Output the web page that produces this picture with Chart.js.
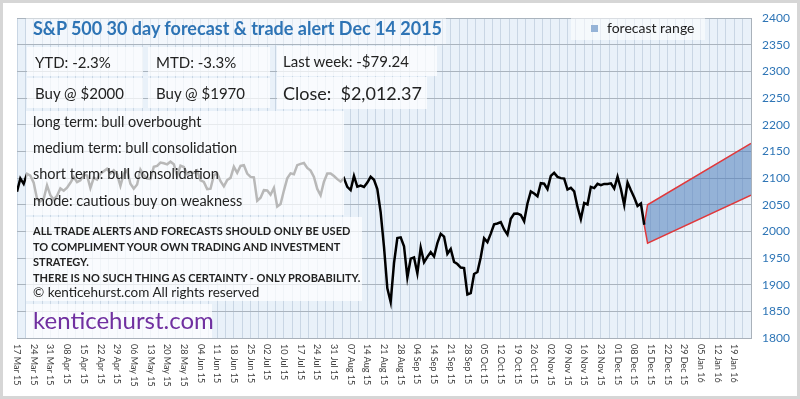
<!DOCTYPE html>
<html>
<head>
<meta charset="utf-8">
<script src="https://cdn.jsdelivr.net/npm/chart.js@4"></script>
<style>
  body { margin: 0; background: #fff; }
  #wrap { position: relative; width: 800px; height: 399px; font-family: Lato, "Open Sans", sans-serif; color: #222; }
  canvas { position: absolute; left: 0; top: 0; }
  .box { position: absolute; background: rgba(255,255,255,0.72); box-sizing: border-box; white-space: nowrap; }
  .cell { font-size: 15px; padding-left: 8px; display: flex; align-items: center; }
  .term { position: absolute; left: 7px; font-size: 14.5px; }
  .warn { font-weight: bold; font-size: 11px; line-height: 15.5px; padding: 6px 0 0 7px; }
</style>
</head>
<body>
<div id="wrap">
  <canvas id="c" width="800" height="399"></canvas>

  <div class="box" style="left:26px;top:14px;width:420px;height:30px;background:rgba(255,255,255,0.45);">
    <div style="position:absolute;left:7px;top:3px;font-size:18px;font-weight:bold;color:#2e74b5;">S&amp;P 500 30 day forecast &amp; trade alert Dec 14 2015</div>
  </div>

  <div class="box cell" style="left:27px;top:47px;width:116px;height:29px;">YTD: -2.3%</div>
  <div class="box cell" style="left:148px;top:47px;width:122px;height:29px;">MTD: -3.3%</div>
  <div class="box cell" style="left:277px;top:46px;width:160px;height:30px;padding-left:6px;">Last week: -$79.24</div>
  <div class="box cell" style="left:27px;top:78px;width:116px;height:30px;">Buy @ $2000</div>
  <div class="box cell" style="left:148px;top:78px;width:122px;height:30px;">Buy @ $1970</div>
  <div class="box cell" style="left:277px;top:77px;width:150px;height:32px;padding-left:6px;font-size:18px;">Close:&nbsp; $2,012.37</div>

  <div class="box" style="left:26px;top:111px;width:318px;height:104px;">
    <div class="term" style="top:2px;">long term: bull overbought</div>
    <div class="term" style="top:28px;">medium term: bull consolidation</div>
    <div class="term" style="top:54px;">short term: bull consolidation</div>
    <div class="term" style="top:81px;">mode: cautious buy on weakness</div>
  </div>

  <div class="box warn" style="left:26px;top:217px;width:336px;height:84px;">
    ALL TRADE ALERTS AND FORECASTS SHOULD ONLY BE USED<br>
    TO COMPLIMENT YOUR OWN TRADING AND INVESTMENT<br>
    STRATEGY.<br>
    THERE IS NO SUCH THING AS CERTAINTY - ONLY PROBABILITY.<br>
    <span style="font-weight:normal;font-size:13.5px;">&copy; kenticehurst.com All rights reserved</span>
  </div>

  <div class="box" style="left:26px;top:304px;width:186px;height:34px;">
    <div style="position:absolute;left:7px;top:1px;font-size:24px;color:#7030a0;">kenticehurst.com</div>
  </div>

  <div class="box" style="left:571px;top:16px;width:134px;height:24px;background:rgba(255,255,255,0.55);">
    <span style="position:absolute;left:20px;top:9px;width:7px;height:7px;background:#95b3d7;"></span>
    <span style="position:absolute;left:36px;top:3px;font-size:14px;">forecast range</span>
  </div>
</div>

<script>
// S&P 500 daily closes, 17 Mar 2015 .. 11 Dec 2015 (one per trading day)
var closes = [
  2074.28, 2099.50, 2089.27, 2108.10, 2104.42, 2091.50, 2061.05, 2056.15, 2061.02, 2086.24, 2067.89,
  2059.69, 2066.96, 2080.62, 2076.33, 2081.90, 2091.18, 2102.06, 2092.43, 2095.84, 2106.63, 2104.99,
  2081.18, 2100.40, 2097.29, 2107.96, 2112.93, 2117.69, 2108.92, 2114.76, 2106.85, 2085.51,
  2108.29, 2114.49, 2089.46, 2080.15, 2088.00, 2116.10, 2105.33, 2099.12, 2098.48, 2121.10, 2122.73,
  2129.20, 2127.83, 2125.85, 2130.82, 2126.06, 2104.20, 2123.48, 2120.79, 2107.39,
  2111.73, 2109.60, 2114.07, 2095.84, 2092.83, 2079.28, 2080.15, 2105.20, 2108.86, 2094.11, 2084.43,
  2096.29, 2100.44, 2121.24, 2109.99, 2122.85, 2124.20, 2108.58, 2102.31, 2101.49, 2057.64, 2063.11,
  2077.42, 2076.78, 2068.76, 2081.34, 2046.68, 2051.31, 2076.62, 2099.60, 2108.95, 2107.40, 2124.29,
  2126.64, 2128.28, 2119.21, 2114.15, 2102.15, 2079.65, 2067.64, 2093.25, 2108.57, 2108.63, 2103.84,
  2098.04, 2093.32, 2099.84, 2083.56, 2077.57, 2104.18, 2084.07, 2086.05, 2083.39, 2091.54, 2102.44,
  2096.92, 2079.61, 2035.73, 1970.89, 1893.21, 1867.61, 1940.51, 1987.66, 1988.87, 1972.18,
  1913.85, 1948.86, 1951.13, 1921.22, 1969.41, 1942.04, 1952.29, 1961.05, 1953.03, 1978.09, 1995.31,
  1990.20, 1958.03, 1966.97, 1942.74, 1938.76, 1932.24, 1931.34, 1881.77, 1884.09, 1920.03,
  1923.82, 1951.36, 1987.05, 1979.92, 1995.83, 2013.43, 2014.89, 2017.46, 2003.69, 1994.24, 2023.86,
  2033.11, 2033.66, 2030.77, 2018.94, 2052.51, 2075.15, 2071.18, 2065.89, 2090.35, 2089.41, 2079.36,
  2104.05, 2109.79, 2102.31, 2099.93, 2099.20, 2078.58, 2081.72, 2075.00, 2045.97, 2023.04, 2053.19,
  2050.44, 2083.58, 2081.24, 2089.17, 2086.59, 2089.14, 2088.87, 2090.11, 2080.41,
  2102.63, 2079.51, 2049.62, 2091.69, 2077.07, 2063.59, 2047.62, 2052.23, 2012.37
];

// forecast band (trading day index, upper, lower)
var forecastDay = [188, 189, 220];
var forecastHigh = [2012.37, 2050, 2165];
var forecastLow = [2012.37, 1978, 2068];

// one label every 5 trading days
var tickLabels = ['17 Mar 15','24 Mar 15','31 Mar 15','08 Apr 15','15 Apr 15','22 Apr 15','29 Apr 15',
  '06 May 15','13 May 15','20 May 15','28 May 15','04 Jun 15','11 Jun 15','18 Jun 15','25 Jun 15',
  '02 Jul 15','10 Jul 15','17 Jul 15','24 Jul 15','31 Jul 15','07 Aug 15','14 Aug 15','21 Aug 15',
  '28 Aug 15','04 Sep 15','14 Sep 15','21 Sep 15','28 Sep 15','05 Oct 15','12 Oct 15','19 Oct 15',
  '26 Oct 15','02 Nov 15','09 Nov 15','16 Nov 15','23 Nov 15','01 Dec 15','08 Dec 15','15 Dec 15',
  '22 Dec 15','29 Dec 15','05 Jan 16','12 Jan 16','19 Jan 16'];
var labelStep = 5;

function pts(xs, ys) {
  return xs.map(function (x, i) { return {x: x, y: ys[i]}; });
}

var decor = {
  id: 'decor',
  beforeDraw: function (chart) {
    var ctx = chart.ctx, a = chart.chartArea;
    ctx.save();
    ctx.fillStyle = '#fff';
    ctx.fillRect(0, 0, chart.width, chart.height);
    ctx.fillStyle = '#e9f1f9';
    ctx.fillRect(a.left, a.top, a.right - a.left, a.bottom - a.top);
    ctx.restore();
  },
  afterDraw: function (chart) {
    var ctx = chart.ctx, xs = chart.scales.x;
    ctx.save();
    ctx.font = '9px Lato';
    ctx.fillStyle = '#404040';
    ctx.textAlign = 'left';
    ctx.textBaseline = 'middle';
    tickLabels.forEach(function (lab, i) {
      var px = xs.getPixelForValue(i * labelStep);
      ctx.save();
      ctx.translate(px, 344);
      ctx.rotate(Math.PI / 2);
      ctx.fillText(lab, 0, 0);
      ctx.restore();
    });
    ctx.strokeStyle = '#d6d6d6';
    ctx.lineWidth = 3;
    ctx.strokeRect(1.5, 1.5, chart.width - 3, chart.height - 3);
    ctx.restore();
  }
};

new Chart(document.getElementById('c'), {
  type: 'line',
  data: {
    datasets: [
      {
        data: pts(closes.map(function (v, i) { return i; }), closes),
        borderColor: '#000', borderWidth: 2.5, pointRadius: 0, tension: 0, fill: false
      },
      {
        data: pts(forecastDay, forecastHigh),
        borderColor: '#e0393c', borderWidth: 1.5, pointRadius: 0, fill: false
      },
      {
        data: pts(forecastDay, forecastLow),
        borderColor: '#e0393c', borderWidth: 1.5, pointRadius: 0,
        fill: '-1', backgroundColor: 'rgba(78,126,188,0.55)'
      }
    ]
  },
  options: {
    responsive: false,
    animation: false,
    layout: {padding: {left: 17, top: 10, right: 0, bottom: 0}},
    plugins: {legend: {display: false}, tooltip: {enabled: false}},
    scales: {
      x: {
        type: 'linear', min: 0, max: 220,
        ticks: {display: false, stepSize: 2.5},
        grid: {color: '#c9d6e4', drawTicks: false},
        border: {color: '#a9b1ba'},
        afterFit: function (s) { s.height = 61; }
      },
      y: {
        position: 'right', min: 1800, max: 2400,
        ticks: {
          stepSize: 50, color: '#2e75b6', padding: 11, font: {family: 'Lato', size: 12},
          callback: function (v) { return String(v); }
        },
        grid: {color: '#aab4be', drawTicks: false},
        border: {color: '#a9b1ba'},
        afterFit: function (s) { s.width = 49; }
      }
    }
  },
  plugins: [decor]
});
</script>
</body>
</html>
